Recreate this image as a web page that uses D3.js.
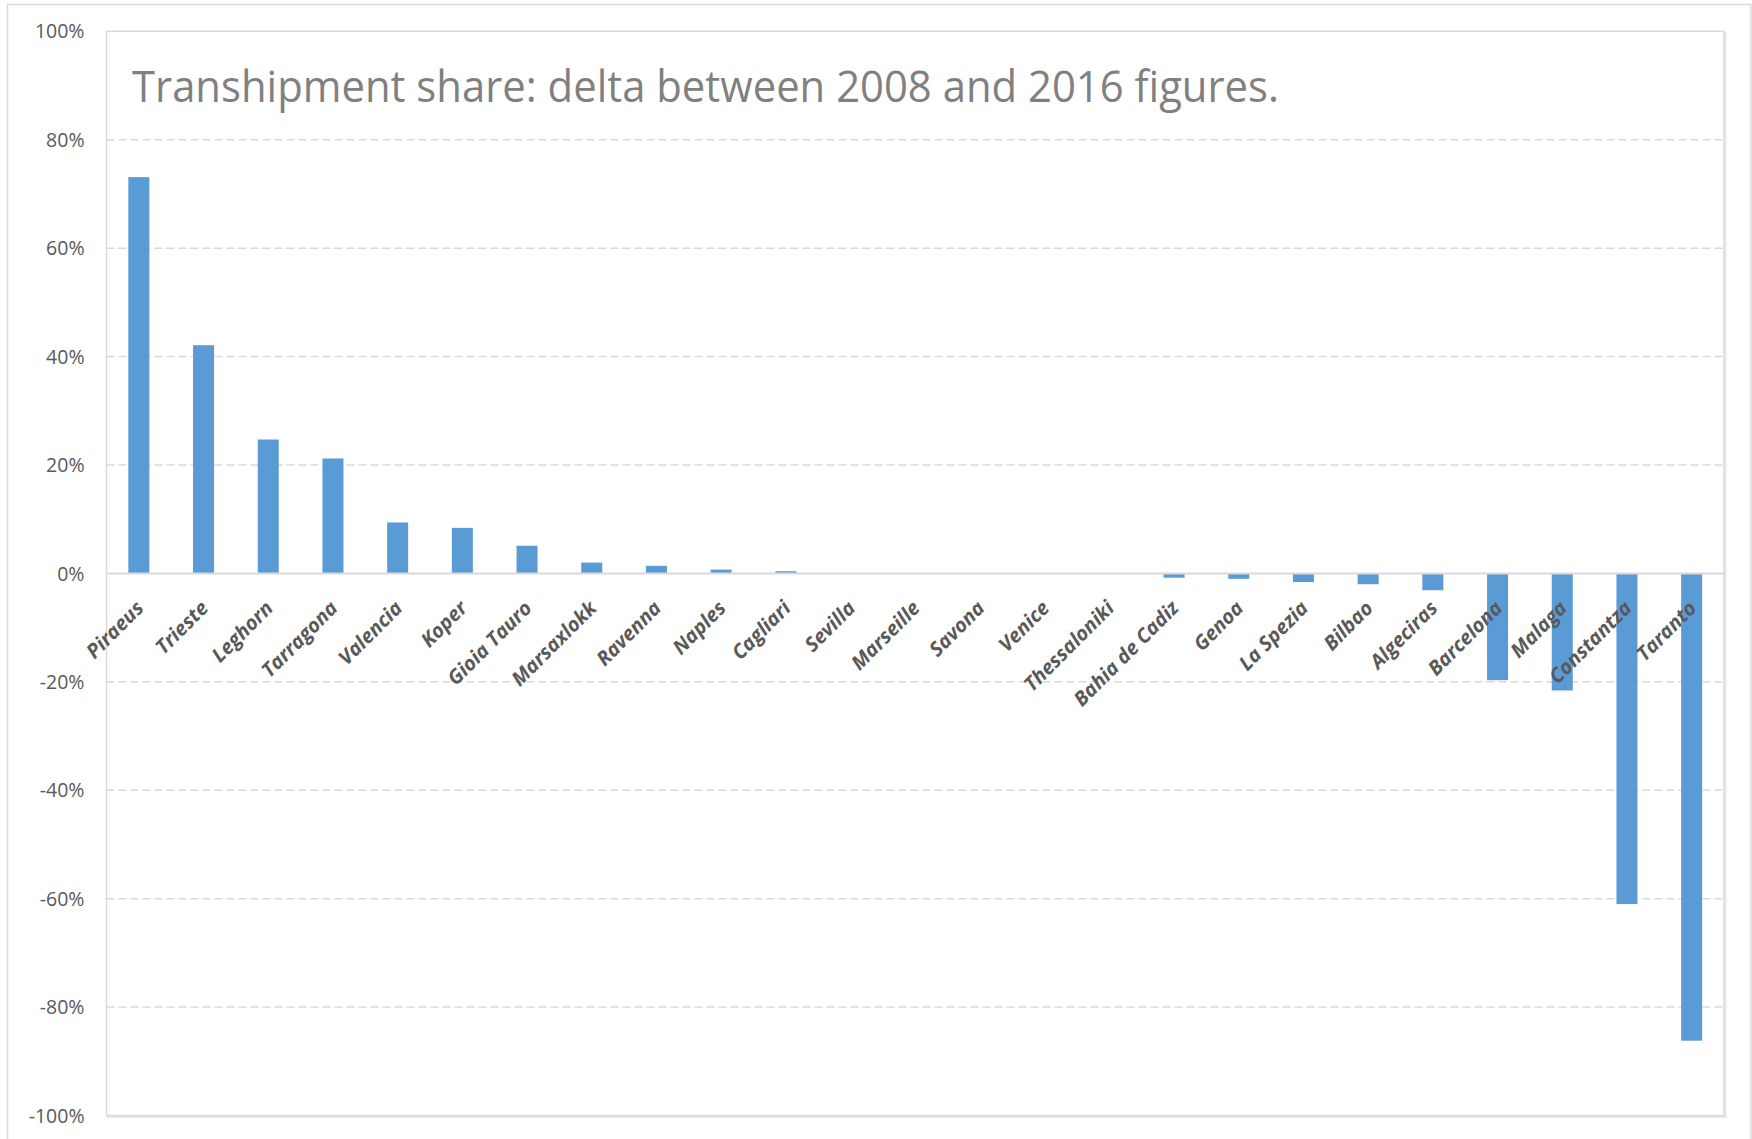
<!DOCTYPE html>
<html>
<head>
<meta charset="utf-8">
<script src="https://cdn.jsdelivr.net/npm/d3@7/dist/d3.min.js"></script>
<style>
  html, body { margin: 0; padding: 0; background: #fff; }
  svg { display: block; }
</style>
</head>
<body>
<svg id="chart" width="1752" height="1139"></svg>
<script>
// Ports, ordered by change in transhipment share (2016 minus 2008)
const ports = [
  "Piraeus", "Trieste", "Leghorn", "Tarragona", "Valencia", "Koper",
  "Gioia Tauro", "Marsaxlokk", "Ravenna", "Naples", "Cagliari", "Sevilla",
  "Marseille", "Savona", "Venice", "Thessaloniki", "Bahia de Cadiz", "Genoa",
  "La Spezia", "Bilbao", "Algeciras", "Barcelona", "Malaga", "Constantza", "Taranto"
];
// Delta in transhipment share, percentage points
const deltaPct = [
  73.1, 42.1, 24.7, 21.2, 9.4, 8.4,
  5.1, 2.0, 1.4, 0.7, 0.4, 0,
  0, 0, 0, 0, -0.8, -1.0,
  -1.6, -2.0, -3.1, -19.7, -21.6, -61.0, -86.2
];
const yTicks = [-1, -0.8, -0.6, -0.4, -0.2, 0, 0.2, 0.4, 0.6, 0.8, 1];
const titleText = "Transhipment share: delta between 2008 and 2016 figures.";

const data = ports.map((p, i) => ({ port: p, value: deltaPct[i] / 100 }));

const svg = d3.select("#chart");
const W = 1752, H = 1139;
const plot = { left: 106.5, right: 1724, top: 31.3, bottom: 1115.5 };

// outer chart frame
svg.append("rect")
  .attr("x", 7.5).attr("y", 4.5)
  .attr("width", W - 8.5).attr("height", H + 10)
  .attr("fill", "#fff").attr("stroke", "#d9d9d9").attr("stroke-width", 1.5);

const x = d3.scaleBand()
  .domain(ports)
  .range([plot.left, plot.right])
  .paddingInner(0.675)
  .paddingOuter(0.3375);

const y = d3.scaleLinear()
  .domain([-1, 1])
  .range([plot.bottom, plot.top]);

// plot area with a soft shadow
svg.append("rect")
  .attr("x", plot.left + 1.5).attr("y", plot.top + 1.5)
  .attr("width", plot.right - plot.left).attr("height", plot.bottom - plot.top)
  .attr("fill", "none").attr("stroke", "#e8e8e8").attr("stroke-width", 2);
svg.append("rect")
  .attr("x", plot.left).attr("y", plot.top)
  .attr("width", plot.right - plot.left).attr("height", plot.bottom - plot.top)
  .attr("fill", "#fff").attr("stroke", "#d9d9d9").attr("stroke-width", 1.5);

// dashed horizontal gridlines
svg.append("g")
  .selectAll("line")
  .data(yTicks.filter(t => t !== 0 && t !== -1 && t !== 1))
  .join("line")
  .attr("x1", plot.left).attr("x2", plot.right)
  .attr("y1", d => y(d)).attr("y2", d => y(d))
  .attr("stroke", "#d9d9d9").attr("stroke-width", 1.5)
  .attr("stroke-dasharray", "8,4");

// y axis labels
const yAxis = d3.axisLeft(y)
  .tickValues(yTicks)
  .tickSize(0)
  .tickPadding(0)
  .tickFormat(v => Math.round(v * 100) + "%");
const gy = svg.append("g")
  .attr("transform", `translate(${plot.left - 22},0)`)
  .call(yAxis);
gy.select(".domain").remove();
gy.selectAll("text")
  .attr("fill", "#595959")
  .attr("font-family", "'Open Sans', sans-serif")
  .attr("font-size", 19.5)
  .attr("dy", "0.34em");

// bars
svg.append("g")
  .selectAll("rect")
  .data(data)
  .join("rect")
  .attr("x", d => x(d.port))
  .attr("width", x.bandwidth())
  .attr("y", d => Math.min(y(d.value), y(0)))
  .attr("height", d => Math.abs(y(d.value) - y(0)))
  .attr("fill", "#5b9bd5");

// zero baseline
svg.append("line")
  .attr("x1", plot.left).attr("x2", plot.right)
  .attr("y1", y(0)).attr("y2", y(0))
  .attr("stroke", "#d9d9d9").attr("stroke-width", 2);

// category labels, rotated
svg.append("g")
  .selectAll("text")
  .data(data)
  .join("text")
  .attr("transform", d => `translate(${x(d.port) + x.bandwidth() / 2 + 6},${y(0) + 36}) rotate(-45)`)
  .attr("text-anchor", "end")
  .attr("fill", "#595959")
  .attr("font-family", "'Open Sans', sans-serif")
  .attr("font-weight", "bold")
  .attr("font-style", "italic")
  .attr("font-size", 20)
  .text(d => d.port);

// title
svg.append("text")
  .attr("x", 132).attr("y", 102)
  .attr("fill", "#808080")
  .attr("font-family", "'Open Sans', sans-serif")
  .attr("font-weight", 400)
  .attr("font-size", 44)
  .attr("textLength", 1147)
  .attr("lengthAdjust", "spacingAndGlyphs")
  .text(titleText);
</script>
</body>
</html>
